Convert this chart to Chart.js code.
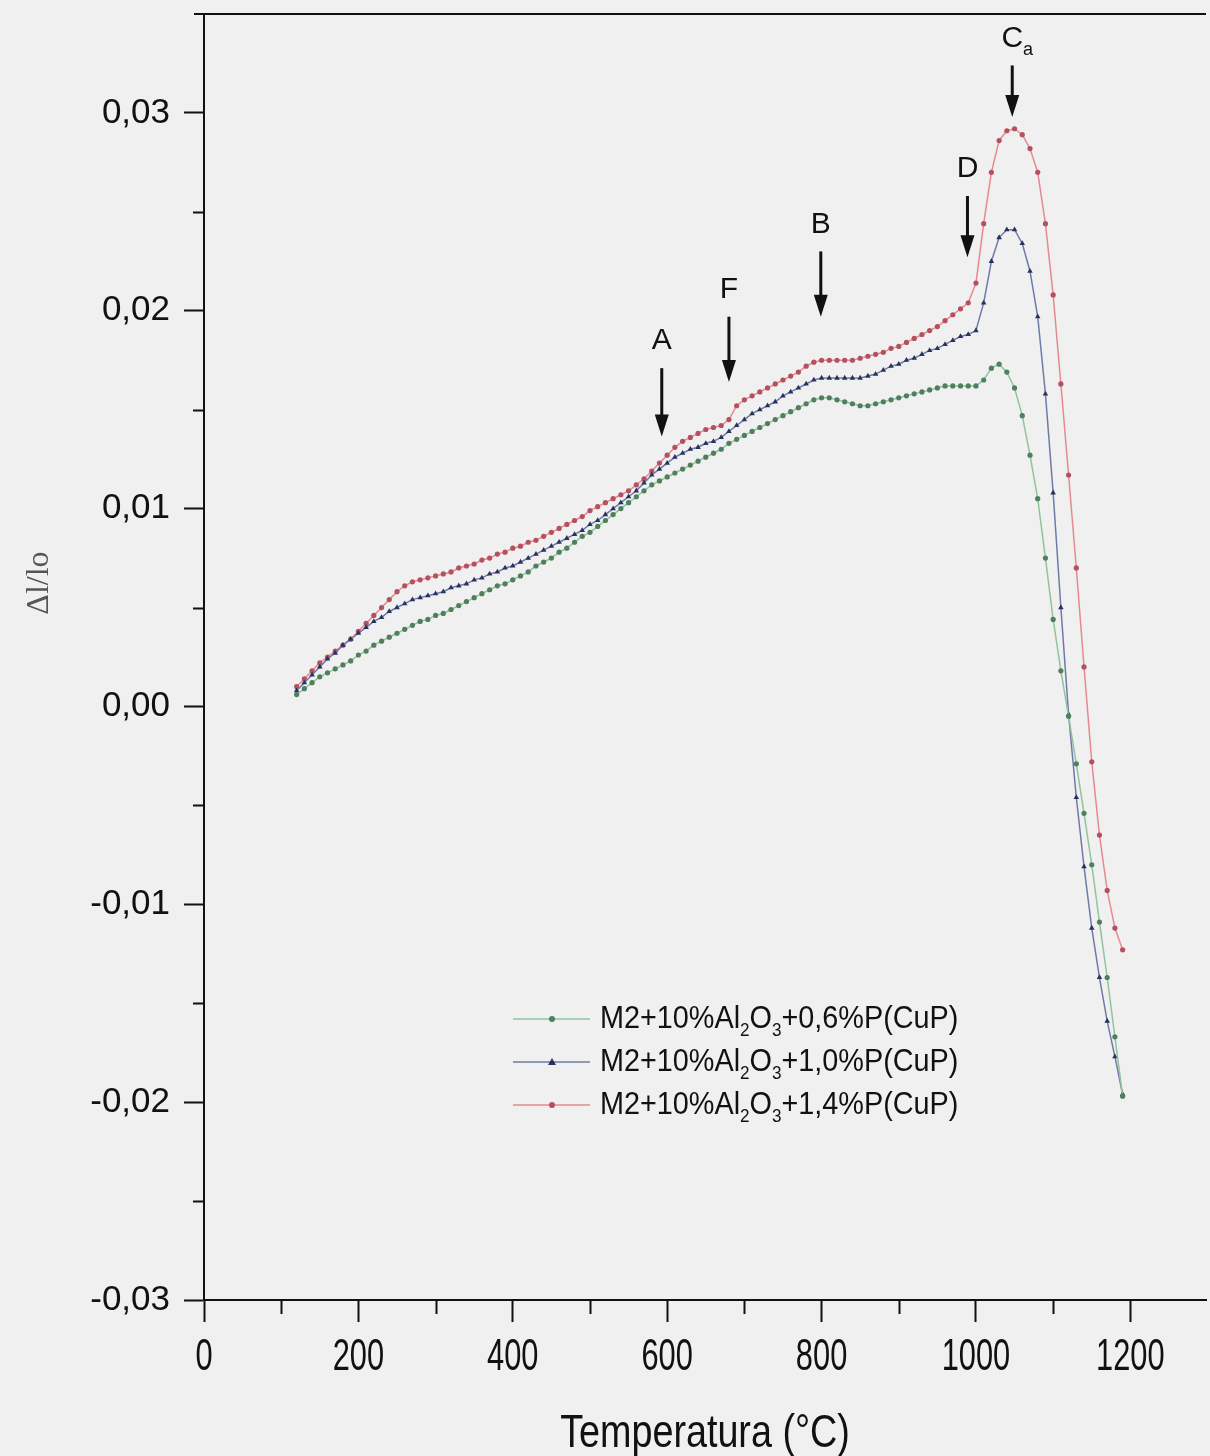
<!DOCTYPE html>
<html lang="pt">
<head>
  <meta charset="UTF-8" />
  <title>Dilatometria M2 + Al2O3 + P(CuP)</title>
  <script src="https://cdn.jsdelivr.net/npm/chart.js"></script>
  <style>
    html, body { margin: 0; padding: 0; background: #f0f0f0; }
    canvas { display: block; }
  </style>
</head>
<body>
  <canvas id="grafico" width="1210" height="1456"></canvas>
  <script>
    // temperaturas (°C)
    const temps = [
      120, 130, 140, 150, 160, 170, 180, 190, 200, 210, 220, 230, 240, 250, 260, 270, 280, 290, 300, 310,
      320, 330, 340, 350, 360, 370, 380, 390, 400, 410, 420, 430, 440, 450, 460, 470, 480, 490, 500, 510,
      520, 530, 540, 550, 560, 570, 580, 590, 600, 610, 620, 630, 640, 650, 660, 670, 680, 690, 700, 710,
      720, 730, 740, 750, 760, 770, 780, 790, 800, 810, 820, 830, 840, 850, 860, 870, 880, 890, 900, 910,
      920, 930, 940, 950, 960, 970, 980, 990, 1000, 1010, 1020, 1030, 1040, 1050, 1060, 1070, 1080, 1090, 1100, 1110,
      1120, 1130, 1140, 1150, 1160, 1170, 1180, 1190
    ];

    // M2+10%Al2O3+0,6%P(CuP)
    const p06 = [
      0.0006, 0.0009, 0.0012, 0.0015, 0.0017, 0.0019, 0.0021, 0.0023, 0.0026, 0.0028, 0.0031, 0.0033, 0.0035, 0.0037, 0.0039, 0.0041, 0.0043, 0.0044, 0.0046, 0.0047,
      0.0049, 0.0051, 0.0053, 0.0055, 0.0057, 0.0059, 0.0061, 0.0062, 0.0064, 0.0066, 0.0068, 0.0071, 0.0073, 0.0075, 0.0078, 0.0080, 0.0083, 0.0086, 0.0088, 0.0091,
      0.0094, 0.0097, 0.0100, 0.0103, 0.0106, 0.0109, 0.0112, 0.0114, 0.0116, 0.0118, 0.0120, 0.0122, 0.0124, 0.0126, 0.0128, 0.0130, 0.0133, 0.0135, 0.0137, 0.0139,
      0.0141, 0.0143, 0.0145, 0.0147, 0.0149, 0.0151, 0.0153, 0.0155, 0.0156, 0.0156, 0.0155, 0.0154, 0.0153, 0.0152, 0.0152, 0.0153, 0.0154, 0.0155, 0.0156, 0.0157,
      0.0158, 0.0159, 0.0160, 0.0161, 0.0162, 0.0162, 0.0162, 0.0162, 0.0162, 0.0165, 0.0171, 0.0173, 0.0169, 0.0161, 0.0147, 0.0127, 0.0105, 0.0075, 0.0044, 0.0018,
      -0.0005, -0.0029, -0.0054, -0.0080, -0.0109, -0.0137, -0.0167, -0.0197
    ];

    // M2+10%Al2O3+1,0%P(CuP)
    const p10 = [
      0.0008, 0.0012, 0.0016, 0.0020, 0.0024, 0.0027, 0.0031, 0.0034, 0.0037, 0.0040, 0.0043, 0.0045, 0.0048, 0.0050, 0.0052, 0.0054, 0.0055, 0.0056, 0.0057, 0.0058,
      0.0060, 0.0061, 0.0062, 0.0064, 0.0065, 0.0067, 0.0068, 0.0070, 0.0071, 0.0073, 0.0075, 0.0077, 0.0079, 0.0081, 0.0083, 0.0085, 0.0087, 0.0089, 0.0092, 0.0094,
      0.0097, 0.0100, 0.0103, 0.0106, 0.0109, 0.0113, 0.0117, 0.0120, 0.0123, 0.0126, 0.0128, 0.0130, 0.0131, 0.0133, 0.0134, 0.0136, 0.0139, 0.0142, 0.0145, 0.0148,
      0.0150, 0.0152, 0.0154, 0.0157, 0.0159, 0.0161, 0.0163, 0.0165, 0.0166, 0.0166, 0.0166, 0.0166, 0.0166, 0.0166, 0.0167, 0.0168, 0.0170, 0.0172, 0.0173, 0.0175,
      0.0176, 0.0178, 0.0180, 0.0181, 0.0183, 0.0185, 0.0187, 0.0188, 0.0190, 0.0204, 0.0225, 0.0237, 0.0241, 0.0241, 0.0234, 0.0220, 0.0197, 0.0158, 0.0108, 0.0050,
      -0.0004, -0.0046, -0.0081, -0.0112, -0.0137, -0.0159, -0.0177, -0.0196
    ];

    // M2+10%Al2O3+1,4%P(CuP)
    const p14 = [
      0.0010, 0.0014, 0.0018, 0.0022, 0.0025, 0.0028, 0.0031, 0.0034, 0.0038, 0.0042, 0.0046, 0.0050, 0.0054, 0.0058, 0.0061, 0.0063, 0.0064, 0.0065, 0.0066, 0.0067,
      0.0068, 0.0070, 0.0071, 0.0072, 0.0074, 0.0075, 0.0077, 0.0078, 0.0080, 0.0081, 0.0083, 0.0084, 0.0086, 0.0088, 0.0090, 0.0092, 0.0094, 0.0096, 0.0099, 0.0101,
      0.0103, 0.0105, 0.0107, 0.0109, 0.0112, 0.0115, 0.0119, 0.0123, 0.0127, 0.0131, 0.0134, 0.0136, 0.0138, 0.0140, 0.0141, 0.0142, 0.0145, 0.0152, 0.0155, 0.0157,
      0.0159, 0.0161, 0.0163, 0.0165, 0.0167, 0.0169, 0.0172, 0.0174, 0.0175, 0.0175, 0.0175, 0.0175, 0.0175, 0.0176, 0.0177, 0.0178, 0.0179, 0.0181, 0.0182, 0.0184,
      0.0186, 0.0188, 0.0190, 0.0192, 0.0195, 0.0198, 0.0201, 0.0204, 0.0214, 0.0244, 0.0270, 0.0286, 0.0291, 0.0292, 0.0289, 0.0282, 0.0270, 0.0244, 0.0208, 0.0163,
      0.0117, 0.0070, 0.0020, -0.0028, -0.0065, -0.0093, -0.0112, -0.0123
    ];

    // legenda: "_x" = subscrito
    const legendas = [
      "M2+10%Al_2O_3+0,6%P(CuP)",
      "M2+10%Al_2O_3+1,0%P(CuP)",
      "M2+10%Al_2O_3+1,4%P(CuP)"
    ];

    // setas: letra, temperatura, valor da cauda e da ponta
    const setas = [
      { txt: "A",   t: 593,  de: 0.0171, ate: 0.01365 },
      { txt: "F",   t: 680,  de: 0.0197, ate: 0.0164 },
      { txt: "B",   t: 799,  de: 0.0230, ate: 0.0197 },
      { txt: "D",   t: 989,  de: 0.0258, ate: 0.0227 },
      { txt: "C_a", t: 1047, de: 0.0324, ate: 0.0298 }
    ];

    const cores = [
      { linha: "#8fc49c", ponto: "#4f7f5c", estilo: "circle",   raio: 2.6 },
      { linha: "#6f7aa8", ponto: "#28325f", estilo: "triangle", raio: 3.2 },
      { linha: "#e58a92", ponto: "#b5505e", estilo: "circle",   raio: 2.6 }
    ];

    function juntar(vals) {
      return temps.map((t, i) => ({ x: t, y: vals[i] }));
    }

    function fmtVirgula(v) {
      if (Math.abs(v) < 1e-9) return "0,00";
      return v.toFixed(2).replace(".", ",");
    }

    // texto com subscritos (_2, _3, _a)
    function textoRico(ctx, s, x, y, tam, fonte) {
      let cx = x;
      for (let i = 0; i < s.length; i++) {
        let sub = false, c = s[i];
        if (c === "_" && i + 1 < s.length) { sub = true; c = s[i + 1]; i++; }
        ctx.font = (sub ? Math.round(tam * 0.6) : tam) + "px " + fonte;
        ctx.fillText(c, cx, sub ? y + tam * 0.38 : y);
        cx += ctx.measureText(c).width;
      }
    }

    const fonte = "'Liberation Sans', Arial, sans-serif";

    const extras = {
      id: "extras",
      afterDraw(chart) {
        const ctx = chart.ctx;
        const xs = chart.scales.x, ys = chart.scales.y;
        const area = chart.chartArea;
        ctx.save();
        ctx.strokeStyle = "#111";
        ctx.fillStyle = "#111";

        // borda superior
        ctx.lineWidth = 2;
        ctx.beginPath();
        ctx.moveTo(area.left - 10, area.top);
        ctx.lineTo(area.right, area.top);
        ctx.stroke();

        // ticks menores
        for (let v = -0.025; v < 0.035; v += 0.01) {
          const py = Math.round(ys.getPixelForValue(v)) + 0.5;
          ctx.beginPath();
          ctx.moveTo(area.left - 11, py);
          ctx.lineTo(area.left, py);
          ctx.stroke();
        }
        for (let t = 100; t < xs.max; t += 200) {
          const px = Math.round(xs.getPixelForValue(t)) + 0.5;
          ctx.beginPath();
          ctx.moveTo(px, area.bottom);
          ctx.lineTo(px, area.bottom + 14);
          ctx.stroke();
        }

        // rótulos do eixo x (estreitos)
        ctx.textAlign = "center";
        ctx.textBaseline = "middle";
        ctx.font = "44px " + fonte;
        xs.ticks.forEach(tk => {
          const px = xs.getPixelForValue(tk.value);
          ctx.save();
          ctx.translate(px, area.bottom + 58);
          ctx.scale(0.7, 1);
          ctx.fillText(String(tk.value), 0, 0);
          ctx.restore();
        });

        // título do eixo x
        ctx.save();
        ctx.translate((area.left + area.right) / 2, area.bottom + 134);
        ctx.scale(0.82, 1);
        ctx.font = "46px " + fonte;
        ctx.fillText("Temperatura (°C)", 0, 0);
        ctx.restore();

        // título do eixo y
        ctx.save();
        ctx.translate(40, 583);
        ctx.rotate(-Math.PI / 2);
        ctx.fillStyle = "#555";
        ctx.font = "32px 'Liberation Serif', 'DejaVu Serif', serif";
        ctx.fillText("Δl/lo", 0, 0);
        ctx.restore();

        // setas
        setas.forEach(s => {
          const px = xs.getPixelForValue(s.t);
          const y0 = ys.getPixelForValue(s.de);
          const y1 = ys.getPixelForValue(s.ate);
          const cab = 22;
          ctx.lineWidth = 3;
          ctx.beginPath();
          ctx.moveTo(px, y0);
          ctx.lineTo(px, y1 - cab + 2);
          ctx.stroke();
          ctx.beginPath();
          ctx.moveTo(px - 7, y1 - cab);
          ctx.lineTo(px + 7, y1 - cab);
          ctx.lineTo(px, y1);
          ctx.closePath();
          ctx.fill();
          ctx.textAlign = "left";
          ctx.textBaseline = "middle";
          ctx.font = "30px " + fonte;
          const w = ctx.measureText(s.txt.charAt(0)).width;
          textoRico(ctx, s.txt, px - w / 2, y0 - 27, 30, fonte);
        });

        // legenda
        const lx = 513, ly = 1019, passo = 43;
        legendas.forEach((txt, i) => {
          const c = cores[i];
          const y = ly + i * passo;
          ctx.strokeStyle = c.linha;
          ctx.lineWidth = 1.5;
          ctx.beginPath();
          ctx.moveTo(lx, y);
          ctx.lineTo(lx + 77, y);
          ctx.stroke();
          ctx.fillStyle = c.ponto;
          const mx = lx + 39;
          if (c.estilo === "triangle") {
            ctx.beginPath();
            ctx.moveTo(mx, y - 4);
            ctx.lineTo(mx + 4, y + 3);
            ctx.lineTo(mx - 4, y + 3);
            ctx.closePath();
            ctx.fill();
          } else {
            ctx.beginPath();
            ctx.arc(mx, y, 3, 0, Math.PI * 2);
            ctx.fill();
          }
          ctx.fillStyle = "#111";
          ctx.textAlign = "left";
          ctx.textBaseline = "middle";
          ctx.save();
          ctx.translate(lx + 87, y);
          ctx.scale(0.9, 1);
          textoRico(ctx, txt, 0, 0, 32, fonte);
          ctx.restore();
        });

        ctx.restore();
      }
    };

    const ctx = document.getElementById("grafico").getContext("2d");
    const grafico = new Chart(ctx, {
      type: "line",
      data: {
        datasets: [p06, p10, p14].map((vals, i) => ({
          label: legendas[i].replace(/_/g, ""),
          data: juntar(vals),
          borderColor: cores[i].linha,
          borderWidth: 1.5,
          backgroundColor: cores[i].ponto,
          pointBackgroundColor: cores[i].ponto,
          pointBorderColor: cores[i].ponto,
          pointBorderWidth: 0,
          pointStyle: cores[i].estilo,
          pointRadius: cores[i].raio,
          fill: false,
          tension: 0
        }))
      },
      options: {
        responsive: false,
        animation: false,
        devicePixelRatio: 1,
        layout: { padding: { top: 14, right: 0, left: 0, bottom: 0 } },
        plugins: {
          legend: { display: false },
          tooltip: { enabled: false }
        },
        scales: {
          x: {
            type: "linear",
            min: 0,
            max: 1298,
            afterFit(scale) { scale.height = 156; scale.paddingLeft = 0; scale.paddingRight = 0; },
            ticks: { stepSize: 200, includeBounds: false, display: false },
            grid: { drawOnChartArea: false, drawTicks: true, tickLength: 22, tickColor: "#111", tickWidth: 2 },
            border: { color: "#111", width: 2 }
          },
          y: {
            type: "linear",
            min: -0.03,
            max: 0.035,
            afterFit(scale) { scale.width = 204; scale.paddingTop = 0; scale.paddingBottom = 0; },
            ticks: {
              stepSize: 0.01,
              includeBounds: false,
              padding: 14,
              color: "#111",
              font: { family: fonte, size: 35 },
              callback: (v) => fmtVirgula(v)
            },
            grid: { drawOnChartArea: false, drawTicks: true, tickLength: 20, tickColor: "#111", tickWidth: 2 },
            border: { color: "#111", width: 2 }
          }
        }
      },
      plugins: [extras]
    });
  </script>
</body>
</html>
